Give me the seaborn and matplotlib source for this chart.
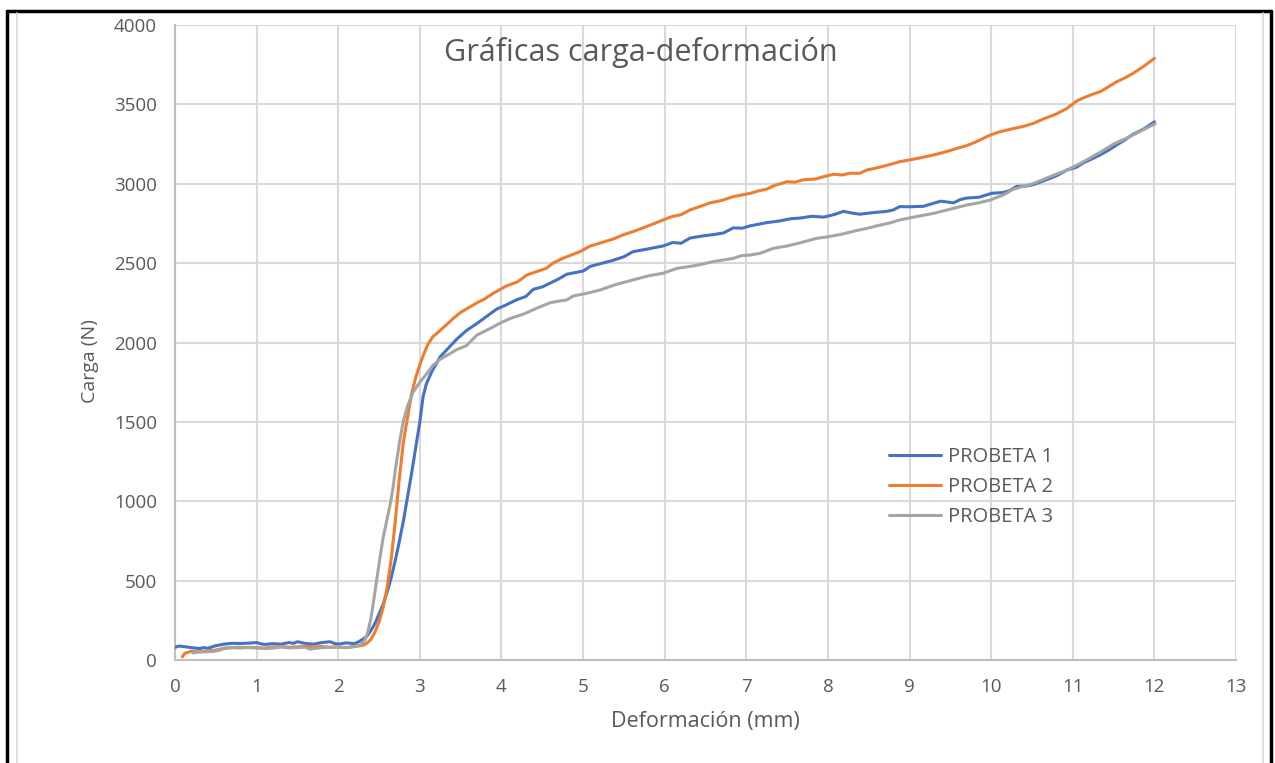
import matplotlib
matplotlib.use('Agg')
import matplotlib.pyplot as plt
from matplotlib.lines import Line2D
from matplotlib.ticker import MultipleLocator
import seaborn as sns
import pandas as pd

# datos (deformacion en mm, carga en N)
def_p1 = [0, 0.05, 0.1, 0.2, 0.3, 0.35, 0.4, 0.5, 0.6, 0.7, 0.8, 0.9, 1.0, 1.05, 1.1, 1.2, 1.3, 1.4, 1.45, 1.5,
          1.6, 1.7, 1.8, 1.9, 1.95, 2.0, 2.1, 2.2, 2.25, 2.3, 2.35, 2.4, 2.45, 2.5, 2.55, 2.6, 2.65, 2.7, 2.75, 2.8,
          2.85, 2.9, 2.95, 3.0, 3.04, 3.08, 3.15, 3.25, 3.35, 3.45, 3.57, 3.7, 3.82, 3.94, 4.05, 4.19, 4.3, 4.39,
          4.5, 4.6, 4.7, 4.8, 4.9, 5.0, 5.09, 5.2, 5.35, 5.5, 5.61, 5.75, 5.9, 5.98, 6.1, 6.2, 6.31, 6.45, 6.6,
          6.72, 6.84, 6.95, 7.05, 7.15, 7.25, 7.4, 7.55, 7.66, 7.8, 7.95, 8.07, 8.19, 8.3, 8.39, 8.55, 8.72, 8.8,
          8.88, 9.0, 9.17, 9.3, 9.38, 9.54, 9.62, 9.7, 9.85, 10.01, 10.15, 10.23, 10.31, 10.42, 10.52, 10.65,
          10.8, 10.93, 11.05, 11.13, 11.25, 11.34, 11.45, 11.54, 11.65, 11.74, 11.87, 12.0]
carga_p1 = [80, 88, 85, 78, 72, 78, 74, 90, 100, 105, 104, 106, 110, 102, 98, 103, 100, 110, 105, 115,
            104, 100, 110, 115, 105, 100, 108, 103, 115, 130, 150, 185, 230, 290, 350, 430, 520, 630, 750, 880,
            1030, 1180, 1340, 1500, 1660, 1740, 1820, 1910, 1965, 2020, 2075, 2120, 2165, 2210, 2235, 2270, 2290,
            2335, 2350, 2375, 2400, 2430, 2440, 2450, 2480, 2495, 2515, 2540, 2572, 2585, 2600, 2608, 2630, 2625,
            2658, 2670, 2680, 2690, 2722, 2720, 2735, 2745, 2755, 2765, 2780, 2784, 2795, 2790, 2805, 2826, 2815,
            2808, 2818, 2826, 2835, 2856, 2855, 2858, 2878, 2890, 2880, 2900, 2910, 2915, 2940, 2945, 2958, 2983,
            2985, 2995, 3020, 3050, 3087, 3105, 3132, 3160, 3183, 3215, 3245, 3280, 3312, 3345, 3390]

def_p2 = [0.09, 0.12, 0.2, 0.3, 0.4, 0.5, 0.6, 0.7, 0.8, 0.9, 1.0, 1.1, 1.2, 1.3, 1.4, 1.5, 1.6, 1.7, 1.8, 1.9,
          2.0, 2.1, 2.2, 2.3, 2.35, 2.4, 2.45, 2.5, 2.55, 2.6, 2.65, 2.7, 2.75, 2.8, 2.84, 2.9, 2.95, 3.0, 3.05,
          3.1, 3.16, 3.21, 3.3, 3.41, 3.5, 3.6, 3.7, 3.78, 3.9, 4.06, 4.2, 4.31, 4.42, 4.55, 4.63, 4.75, 4.85,
          4.96, 5.09, 5.2, 5.37, 5.5, 5.61, 5.75, 5.9, 5.98, 6.1, 6.2, 6.31, 6.45, 6.56, 6.7, 6.84, 6.95, 7.05,
          7.15, 7.25, 7.35, 7.5, 7.6, 7.7, 7.85, 7.95, 8.07, 8.17, 8.27, 8.39, 8.48, 8.6, 8.75, 8.88, 9.0, 9.15,
          9.29, 9.4, 9.5, 9.58, 9.7, 9.82, 9.9, 9.99, 10.11, 10.25, 10.4, 10.52, 10.65, 10.8, 10.93, 11.05,
          11.15, 11.25, 11.34, 11.45, 11.54, 11.65, 11.74, 11.87, 12.0]
carga_p2 = [20, 42, 55, 52, 58, 62, 75, 78, 76, 80, 78, 75, 82, 85, 80, 83, 88, 82, 85, 80,
            82, 78, 85, 92, 105, 130, 175, 240, 330, 460, 640, 880, 1150, 1380, 1500, 1680, 1780, 1860, 1930,
            1990, 2037, 2058, 2100, 2152, 2190, 2220, 2250, 2270, 2310, 2356, 2383, 2425, 2445, 2467, 2500, 2530,
            2550, 2572, 2608, 2625, 2652, 2680, 2698, 2725, 2755, 2772, 2795, 2805, 2835, 2860, 2880, 2895, 2919,
            2930, 2940, 2955, 2966, 2990, 3013, 3010, 3025, 3030, 3045, 3060, 3055, 3066, 3066, 3087, 3100, 3120,
            3139, 3150, 3165, 3181, 3195, 3210, 3223, 3240, 3265, 3285, 3307, 3328, 3345, 3362, 3381, 3410, 3440,
            3475, 3522, 3545, 3565, 3581, 3615, 3643, 3670, 3696, 3740, 3790]

def_p3 = [0.22, 0.3, 0.4, 0.5, 0.55, 0.6, 0.7, 0.8, 0.9, 1.0, 1.1, 1.2, 1.3, 1.4, 1.5, 1.6, 1.65, 1.7, 1.8, 1.9,
          2.0, 2.1, 2.2, 2.27, 2.32, 2.36, 2.4, 2.43, 2.47, 2.51, 2.55, 2.6, 2.64, 2.67, 2.7, 2.73, 2.76, 2.8,
          2.85, 2.92, 3.0, 3.08, 3.16, 3.25, 3.37, 3.45, 3.57, 3.7, 3.85, 3.98, 4.1, 4.27, 4.45, 4.6, 4.72, 4.8,
          4.88, 5.05, 5.21, 5.4, 5.61, 5.8, 5.98, 6.15, 6.3, 6.43, 6.6, 6.84, 6.95, 7.05, 7.17, 7.33, 7.5, 7.66,
          7.86, 8.0, 8.15, 8.23, 8.35, 8.48, 8.6, 8.75, 8.88, 9.05, 9.29, 9.5, 9.7, 9.85, 9.99, 10.15, 10.27,
          10.4, 10.52, 10.7, 10.93, 11.1, 11.34, 11.5, 11.74, 11.9, 12.01]
carga_p3 = [45, 50, 52, 56, 62, 72, 78, 80, 78, 76, 72, 75, 82, 76, 78, 80, 68, 72, 78, 80,
            82, 78, 85, 95, 120, 170, 260, 360, 500, 640, 770, 890, 990, 1080, 1200, 1300, 1400, 1510,
            1600, 1690, 1750, 1800, 1855, 1895, 1930, 1955, 1980, 2047, 2085, 2121, 2150, 2179, 2220, 2251, 2262,
            2268, 2293, 2310, 2331, 2365, 2394, 2420, 2436, 2467, 2478, 2490, 2510, 2530, 2548, 2551, 2562, 2593,
            2608, 2628, 2656, 2666, 2680, 2690, 2705, 2719, 2735, 2752, 2772, 2790, 2813, 2840, 2866, 2880, 2898,
            2930, 2965, 2985, 3002, 3040, 3087, 3130, 3200, 3250, 3307, 3350, 3378]

series = ['PROBETA 1', 'PROBETA 2', 'PROBETA 3']
colores = {'PROBETA 1': '#4472C4', 'PROBETA 2': '#ED7D31', 'PROBETA 3': '#A5A5A5'}

df = pd.concat([
    pd.DataFrame({'def': def_p1, 'carga': carga_p1, 'probeta': series[0]}),
    pd.DataFrame({'def': def_p2, 'carga': carga_p2, 'probeta': series[1]}),
    pd.DataFrame({'def': def_p3, 'carga': carga_p3, 'probeta': series[2]}),
], ignore_index=True)

sns.set_style('white')
plt.rcParams['font.family'] = ['Open Sans', 'DejaVu Sans']
gris_txt = '#595959'
gris_eje = '#d9d9d9'

fig = plt.figure(figsize=(12.75, 7.63), dpi=100)
ax = fig.add_axes([175 / 1275, 1 - 660 / 763, (1236 - 175) / 1275, (660 - 25) / 763])

sns.lineplot(data=df, x='def', y='carga', hue='probeta', palette=colores, sort=False,
             estimator=None, linewidth=2.2, ax=ax, zorder=3)

ax.set_xlim(0, 13)
ax.set_ylim(0, 4000)
ax.xaxis.set_major_locator(MultipleLocator(1))
ax.xaxis.set_minor_locator(MultipleLocator(0.1))
ax.yaxis.set_major_locator(MultipleLocator(500))
ax.yaxis.set_minor_locator(MultipleLocator(50))
ax.grid(True, which='major', color=gris_eje, linewidth=1.5)
ax.set_axisbelow(True)

for s in ['top', 'right']:
    ax.spines[s].set_visible(False)
for s in ['left', 'bottom']:
    ax.spines[s].set_color('#bfbfbf')
    ax.spines[s].set_linewidth(1.5)

ax.tick_params(axis='both', which='major', direction='out', length=5, width=1.2, color='#bfbfbf',
               labelsize=13.5, labelcolor=gris_txt, pad=8)
ax.tick_params(axis='both', which='minor', direction='out', length=4, width=1, color='#bfbfbf')

ax.set_xlabel('Deformación (mm)', fontsize=15.5, color=gris_txt)
ax.set_ylabel('Carga (N)', fontsize=14, color=gris_txt)
ax.xaxis.set_label_coords(0.5, -0.081)
ax.yaxis.set_label_coords(-0.072, 0.47)

fig.text(641 / 1275, 1 - 53 / 763, 'Gráficas carga-deformación', fontsize=22, color=gris_txt,
         ha='center', va='center')

ax.legend(frameon=False, loc='upper left', bbox_to_anchor=(871 / 1275, 1 - 429 / 763),
          bbox_transform=fig.transFigure, fontsize=14.5, labelcolor=gris_txt, handlelength=2.6,
          handletextpad=0.3, labelspacing=0.5)

# marco del grafico
fig.add_artist(Line2D([7 / 1275, 1271 / 1275], [1 - 11 / 763, 1 - 11 / 763], color='black', lw=2.5))
fig.add_artist(Line2D([7 / 1275, 7 / 1275], [0, 1 - 11 / 763], color='black', lw=2.5))
fig.add_artist(Line2D([1271 / 1275, 1271 / 1275], [0, 1 - 11 / 763], color='black', lw=2.5))
fig.add_artist(Line2D([17 / 1275, 17 / 1275], [0, 1 - 13 / 763], color=gris_eje, lw=1.2))
fig.add_artist(Line2D([1263 / 1275, 1263 / 1275], [0, 1 - 13 / 763], color=gris_eje, lw=1.2))

plt.savefig('out.png', dpi=100, facecolor='white')
